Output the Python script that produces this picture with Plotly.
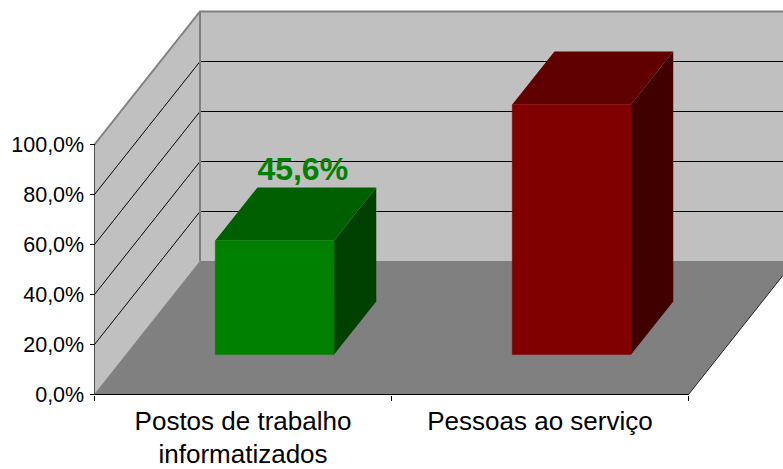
import plotly.graph_objects as go

categories = ["Postos de trabalho<br>informatizados", "Pessoas ao serviço"]
values = [45.6, 100.0]
data_labels = ["45,6%", ""]
tick_values = [0, 20, 40, 60, 80, 100]
tick_labels = ["0,0%", "20,0%", "40,0%", "60,0%", "80,0%", "100,0%"]
front_colors = ["#008000", "#800000"]
top_colors = ["#006000", "#600000"]
side_colors = ["#004000", "#400000"]

W, H = 783, 469
X0, Y0 = 94.5, 394.5      # page position of the chart origin
CAT_PX, VAL_PX = 297, 2.5 # pixels per category / per percent
DEPTH_X, DEPTH_Y = 105.5 / CAT_PX, 133 / VAL_PX  # shear of the depth axis
BAR_LO, BAR_HI = 0.3, 0.7
N = len(categories)
TOP = max(tick_values)


def proj(c, v, d):
    return c + DEPTH_X * d, v + DEPTH_Y * d


fig = go.Figure()


def poly(pts, fill=None, line=None, width=1):
    p = [proj(*q) for q in pts]
    xs = [a for a, _ in p]
    ys = [b for _, b in p]
    if fill:
        xs.append(xs[0])
        ys.append(ys[0])
    fig.add_trace(go.Scatter(
        x=xs, y=ys, mode="lines",
        fill="toself" if fill else None, fillcolor=fill,
        line=dict(color=line or fill, width=width),
        hoverinfo="skip", showlegend=False))


# walls and floor
poly([(0, 0, 0), (0, TOP, 0), (0, TOP, 1), (0, 0, 1)], fill="#C0C0C0", width=0)
poly([(0, 0, 1), (0, TOP, 1), (N, TOP, 1), (N, 0, 1)], fill="#C0C0C0", width=0)
poly([(0, 0, 0), (N, 0, 0), (N, 0, 1), (0, 0, 1)], fill="#808080", width=0)

# gridlines
for t in tick_values[1:-1]:
    poly([(0, t, 0), (0, t, 1), (N, t, 1)], line="#000000", width=1)

# wall edges
poly([(0, TOP, 0), (0, TOP, 1), (N, TOP, 1)], line="#808080", width=2)
poly([(0, 0, 0), (0, 0, 1), (N, 0, 1)], line="#808080", width=1)
poly([(0, 0, 1), (0, TOP, 1)], line="#808080", width=2)
poly([(0, 0, 0), (0, TOP, 0)], line="#505050", width=1)
poly([(0, 0, 0), (N, 0, 0)], line="#000000", width=1)
poly([(N, 0, 0), (N, 0, 1)], line="#202020", width=1)

# bars
for i, v in enumerate(values):
    a, b = i + BAR_LO, i + BAR_HI
    poly([(b, 0, BAR_LO), (b, v, BAR_LO), (b, v, BAR_HI), (b, 0, BAR_HI)], fill=side_colors[i], width=0)
    poly([(a, v, BAR_LO), (b, v, BAR_LO), (b, v, BAR_HI), (a, v, BAR_HI)], fill=top_colors[i], width=0)
    poly([(a, 0, BAR_LO), (b, 0, BAR_LO), (b, v, BAR_LO), (a, v, BAR_LO)], fill=front_colors[i], width=0.5)

# data labels
for i, (v, s) in enumerate(zip(values, data_labels)):
    if s:
        lx, ly = proj(i + 0.5, v, 0.5)
        fig.add_trace(go.Scatter(
            x=[lx + 7 / CAT_PX], y=[ly + 42 / VAL_PX], mode="text", text=[f"<b>{s}</b>"],
            textposition="middle center",
            textfont=dict(family="Liberation Sans", size=32, color=front_colors[i]),
            hoverinfo="skip", showlegend=False))

fig.update_layout(
    width=W, height=H, margin=dict(l=0, r=0, t=0, b=0),
    paper_bgcolor="#FFFFFF", plot_bgcolor="#FFFFFF",
    font=dict(family="Liberation Sans", color="#000000"),
    xaxis=dict(
        automargin=False,
        range=[-X0 / CAT_PX, (W - X0) / CAT_PX], domain=[0, 1],
        anchor="free", position=(H - Y0) / H,
        tickmode="array", tickvals=[i + 0.5 for i in range(N)], ticktext=categories,
        tickangle=0, ticks="", showgrid=False, zeroline=False, showline=False,
        tickfont=dict(size=26), ticklabelstandoff=8,
        minor=dict(tickmode="array", tickvals=list(range(N + 1)), ticks="outside",
                   ticklen=5, tickwidth=1, tickcolor="#000000", showgrid=False),
    ),
    yaxis=dict(
        automargin=False,
        range=[-(H - Y0) / VAL_PX, Y0 / VAL_PX], domain=[0, 1],
        anchor="free", position=X0 / W,
        tickmode="array", tickvals=tick_values, ticktext=tick_labels,
        ticks="outside", ticklen=5, tickwidth=1, tickcolor="#000000",
        showgrid=False, zeroline=False, showline=False,
        tickfont=dict(size=21.5), ticklabelstandoff=1,
    ),
)

fig.write_html("out.html", config={"displayModeBar": False},
               post_script="document.body.style.margin='0';")
